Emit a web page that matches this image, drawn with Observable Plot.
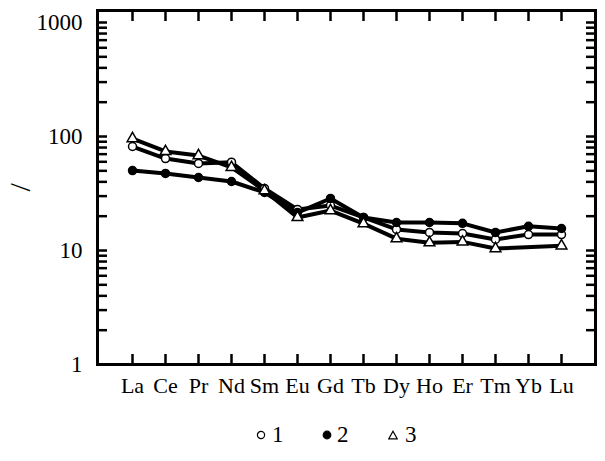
<!DOCTYPE html>
<html>
<head>
<meta charset="utf-8">
<style>
  * { font-family: "Liberation Serif", "Times New Roman", Tinos, serif !important; }
  html, body { margin: 0; padding: 0; background: #fff; }
</style>
<script src="https://cdn.jsdelivr.net/npm/d3@7"></script>
<script src="https://cdn.jsdelivr.net/npm/@observablehq/plot@0.6"></script>
</head>
<body>
<div id="chart" style="width:605px;height:400px;"></div>
<div id="legend" style="display:flex;align-items:center;font-size:23px;margin-top:22px;padding-left:256px;">
  <span style="display:flex;align-items:center;width:66px;"><svg width="10" height="10" style="margin-right:6px"><circle cx="5" cy="5" r="3.6" fill="white" stroke="black" stroke-width="1.2"/></svg><span>1</span></span>
  <span style="display:flex;align-items:center;width:66px;"><svg width="10" height="10" style="margin-right:5px"><circle cx="5" cy="5" r="3.8" fill="black" stroke="black" stroke-width="1.2"/></svg><span>2</span></span>
  <span style="display:flex;align-items:center;width:66px;"><svg width="10" height="10" style="margin-right:7px"><path d="M5,1.2 L9.2,8.8 L0.8,8.8 Z" fill="white" stroke="black" stroke-width="1.2"/></svg><span>3</span></span>
</div>
<script>
const elements = ["La","Ce","Pr","Nd","Sm","Eu","Gd","Tb","Dy","Ho","Er","Tm","Yb","Lu"];
const seriesNames = ["1","2","3"];
const series1 = [81.7, 64, 58, 59.5, 35, 22.9, 24.8, 19.5, 15.3, 14.4, 14.1, 12.5, 13.8, 13.8];
const series2 = [50.3, 47.4, 43.7, 40.3, 32.3, 21.5, 28.6, 19.5, 17.6, 17.6, 17.3, 14.4, 16.3, 15.6];
const series3 = [96, 73.9, 68, 53.5, 33.5, 19.5, 22.4, 17.2, 12.7, 11.7, 11.9, 10.4, null, 11];
const yMajor = [1, 10, 100, 1000];
const yLabel = "/";

const allSeries = [series1, series2, series3];
const data = [];
allSeries.forEach((vals, i) => {
  vals.forEach((v, j) => {
    if (v != null) data.push({series: seriesNames[i], el: elements[j], v});
  });
});
const yMinor = [];
for (const d of [1, 10, 100]) for (let k = 1; k <= 9; k++) yMinor.push(d * k);
yMinor.push(1000);

const font = "Times New Roman";
const symbolRange = ["circle", "circle", "triangle"];
const fillRange = ["white", "black", "white"];

const chart = Plot.plot({
  width: 605,
  height: 400,
  marginLeft: 97,
  marginRight: 10,
  marginTop: 10,
  marginBottom: 36,
  x: {type: "point", domain: elements, padding: 1, axis: null},
  y: {type: "log", domain: [1, 1000], range: [364, 22], axis: null},
  symbol: {domain: seriesNames, range: symbolRange},
  marks: [
    Plot.axisY(yMinor, {anchor: "left", tickSize: -10, strokeWidth: 2.5, text: null, label: null}),
    Plot.axisY(yMinor, {anchor: "right", tickSize: -10, strokeWidth: 2.5, text: null, label: null}),
    Plot.axisY(yMajor, {anchor: "left", tickSize: 0, tickPadding: 15, fontSize: 23, fontFamily: font, fill: "black", tickFormat: d => String(d), label: null}),
    Plot.text([yLabel], {text: d => d, frameAnchor: "left", rotate: -90, dx: -77, dy: 4, fontSize: 30, fontFamily: font, fill: "black"}),
    Plot.axisX({anchor: "bottom", tickSize: -10, strokeWidth: 2.5, text: null, label: null}),
    Plot.axisX({anchor: "top", tickSize: -10, strokeWidth: 2.5, text: null, label: null}),
    Plot.axisX({anchor: "bottom", tickSize: 0, tickPadding: 13, fontSize: 22, fontFamily: font, fill: "black", label: null}),
    Plot.frame({stroke: "black", strokeWidth: 3}),
    Plot.line(data, {x: "el", y: "v", z: "series", stroke: "black", strokeWidth: 4}),
    Plot.dot(data, {x: "el", y: "v", symbol: "series", r: 4, stroke: "black", strokeWidth: 1.5,
      fill: d => fillRange[seriesNames.indexOf(d.series)]})
  ]
});
document.getElementById("chart").appendChild(chart);
</script>
</body>
</html>
